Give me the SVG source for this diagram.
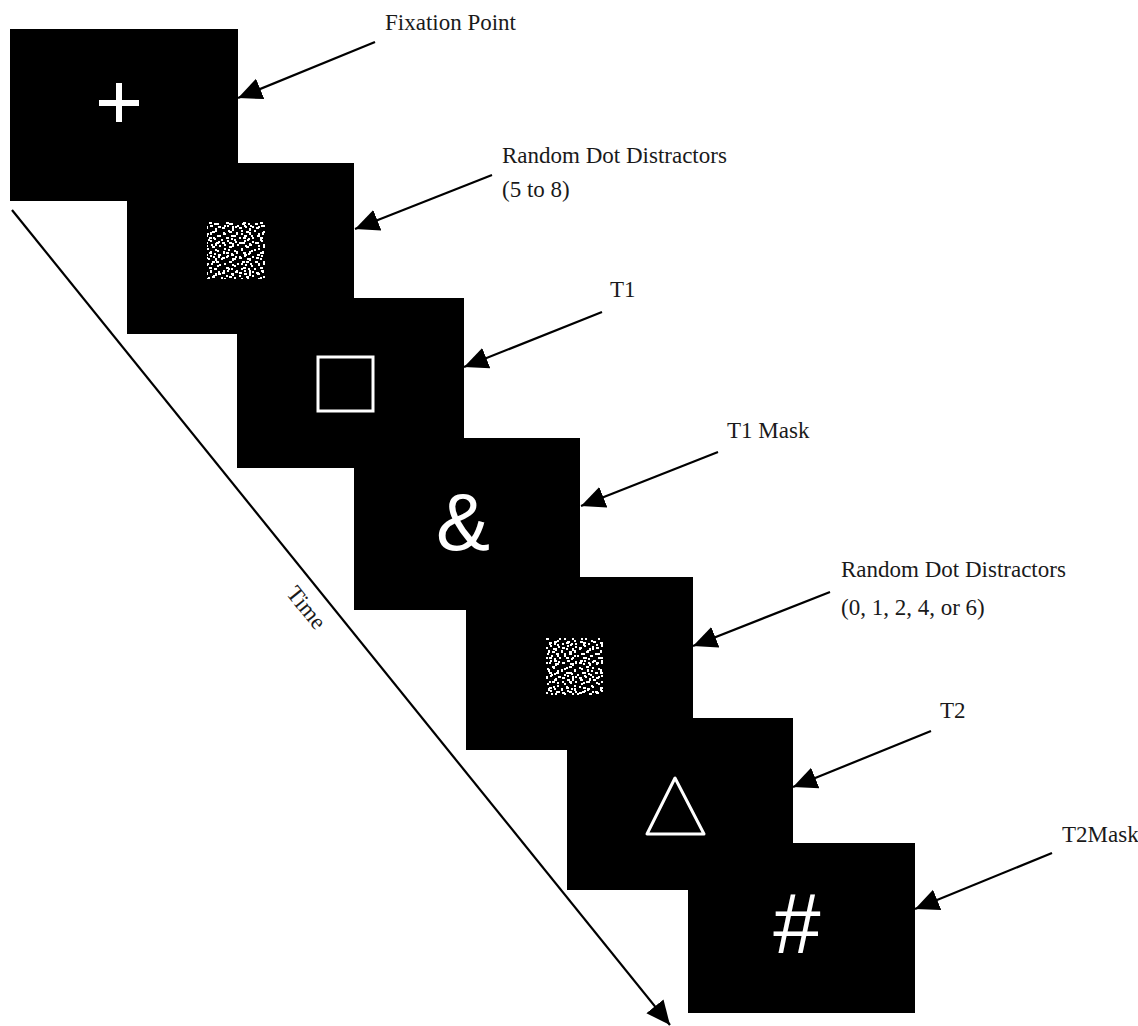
<svg xmlns="http://www.w3.org/2000/svg" width="1138" height="1026" viewBox="0 0 1138 1026">
<style>
.panel{fill:#000}
.lbl{font-family:"Liberation Serif","Times New Roman",serif;font-size:23px;fill:#1a1a1a}
.conn{stroke:#000;stroke-width:2.2;fill:none}
.sym{fill:#fff;font-family:"Liberation Sans",Arial,sans-serif;text-anchor:middle}
.outline{fill:none;stroke:#fff;stroke-width:3}
</style>
<defs>
<marker id="ah" markerUnits="userSpaceOnUse" markerWidth="26" markerHeight="24" refX="24" refY="11" orient="auto">
<path d="M0,0 L24,11 L0,22 Z" fill="#000"/>
</marker>
<pattern id="dotsA" patternUnits="userSpaceOnUse" width="17" height="15">
<g fill="#fff">
<rect x="1" y="2" width="3" height="2"/><rect x="6" y="0" width="2" height="2"/><rect x="11" y="3" width="2" height="3"/><rect x="14" y="1" width="2" height="2"/><rect x="3" y="8" width="2" height="2"/><rect x="8" y="6" width="3" height="2"/><rect x="13" y="10" width="2" height="2"/><rect x="5" y="12" width="3" height="2"/><rect x="10" y="13" width="2" height="2"/>
</g>
</pattern>
<pattern id="dotsB" patternUnits="userSpaceOnUse" width="13" height="19">
<g fill="#fff">
<rect x="2" y="4" width="2" height="3"/><rect x="7" y="2" width="2" height="2"/><rect x="10" y="7" width="3" height="2"/><rect x="0" y="11" width="2" height="2"/><rect x="5" y="9" width="2" height="2"/><rect x="8" y="14" width="3" height="2"/><rect x="3" y="16" width="2" height="2"/><rect x="11" y="17" width="2" height="2"/>
</g>
</pattern>
</defs>
<rect width="1138" height="1026" fill="#fff"/>

<g id="connectors">
<line class="conn" x1="12" y1="210" x2="670" y2="1025" marker-end="url(#ah)"/>
<line class="conn" x1="375" y1="42" x2="238" y2="98" marker-end="url(#ah)"/>
<line class="conn" x1="492" y1="175" x2="355" y2="229" marker-end="url(#ah)"/>
<line class="conn" x1="602" y1="312" x2="464" y2="367" marker-end="url(#ah)"/>
<line class="conn" x1="718" y1="452" x2="581" y2="506" marker-end="url(#ah)"/>
<line class="conn" x1="830" y1="592" x2="693" y2="646" marker-end="url(#ah)"/>
<line class="conn" x1="931" y1="731" x2="793" y2="787" marker-end="url(#ah)"/>
<line class="conn" x1="1052" y1="853" x2="915" y2="909" marker-end="url(#ah)"/>
</g>

<g id="panel-fixation">
<rect class="panel" x="10" y="29" width="228" height="172"/>
<rect x="99" y="100" width="40" height="6" fill="#fff"/>
<rect x="116" y="83" width="6" height="39" fill="#fff"/>
</g>
<g id="panel-distractors1">
<rect class="panel" x="127" y="163" width="227" height="171"/>
<rect x="207" y="222" width="58" height="57" fill="url(#dotsA)"/>
<rect x="207" y="222" width="58" height="57" fill="url(#dotsB)"/>
</g>
<g id="panel-t1">
<rect class="panel" x="237" y="298" width="227" height="170"/>
<rect class="outline" x="318" y="357" width="55" height="54"/>
</g>
<g id="panel-t1mask">
<rect class="panel" x="354" y="438" width="226" height="172"/>
<text class="sym" x="463" y="550" font-size="81">&amp;</text>
</g>
<g id="panel-distractors2">
<rect class="panel" x="466" y="577" width="227" height="173"/>
<rect x="546" y="638" width="57" height="57" fill="url(#dotsA)"/>
<rect x="546" y="638" width="57" height="57" fill="url(#dotsB)"/>
</g>
<g id="panel-t2">
<rect class="panel" x="567" y="718" width="226" height="172"/>
<path class="outline" d="M675,778 L647,834 L704,834 Z" stroke-linejoin="round"/>
</g>
<g id="panel-t2mask">
<rect class="panel" x="688" y="843" width="227" height="170"/>
<text class="sym" x="797" y="953" font-size="85">#</text>
</g>

<g id="labels">
<text class="lbl" x="385" y="30">Fixation Point</text>
<text class="lbl" x="502" y="163">Random Dot Distractors</text>
<text class="lbl" x="502" y="197">(5 to 8)</text>
<text class="lbl" x="610" y="297">T1</text>
<text class="lbl" x="727" y="438">T1 Mask</text>
<text class="lbl" x="841" y="577">Random Dot Distractors</text>
<text class="lbl" x="841" y="615">(0, 1, 2, 4, or 6)</text>
<text class="lbl" x="940" y="718">T2</text>
<text class="lbl" x="1062" y="842">T2Mask</text>
<text class="lbl" x="306" y="615" text-anchor="middle" transform="rotate(51 306 608)">Time</text>
</g>
</svg>
